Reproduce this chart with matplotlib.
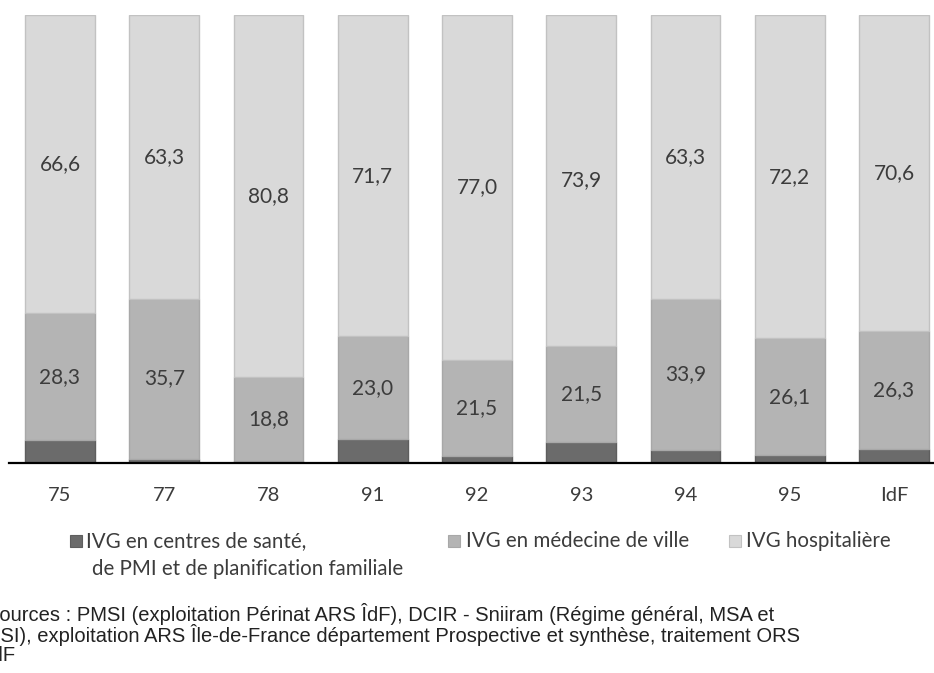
import matplotlib
matplotlib.use("Agg")
import matplotlib.pyplot as plt
from matplotlib.patches import Rectangle
import numpy as np

# données (%)
departements = ["75", "77", "78", "91", "92", "93", "94", "95", "IdF"]
centres_sante = [5.1, 1.0, 0.4, 5.3, 1.5, 4.6, 2.8, 1.7, 3.1]
medecine_ville = [28.3, 35.7, 18.8, 23.0, 21.5, 21.5, 33.9, 26.1, 26.3]
hospitaliere = [66.6, 63.3, 80.8, 71.7, 77.0, 73.9, 63.3, 72.2, 70.6]

series_labels = ["IVG en centres de santé,", "IVG en médecine de ville",
                 "IVG hospitalière"]
sources = ("Sources : PMSI (exploitation Périnat ARS ÎdF), DCIR - Sniiram "
           "(Régime général, MSA et\nRSI), exploitation ARS Île-de-France "
           "département Prospective et synthèse, traitement ORS\nÎdF")

c_dark, c_mid, c_light = "#6b6b6b", "#b4b4b4", "#d9d9d9"
e_dark, e_mid, e_light = "#5e5e5e", "#a8a8a8", "#c2c2c2"
txt_col = "#3c3c3c"
font_chart = ["Lato", "DejaVu Sans"]

W, H = 934, 673
fig = plt.figure(figsize=(W / 100, H / 100), dpi=100)
# axes: gauche 9px, droite 934px, bas 463px, haut 15px
ax = fig.add_axes([9 / W, (H - 463) / H, (W - 9) / W, (463 - 15) / H])

x = np.arange(len(departements))
w = 0.67
b1 = np.array(centres_sante)
b2 = b1 + np.array(medecine_ville)
ax.bar(x, centres_sante, w, color=c_dark, edgecolor=e_dark, linewidth=1)
ax.bar(x, medecine_ville, w, bottom=b1, color=c_mid, edgecolor=e_mid,
       linewidth=1)
ax.bar(x, hospitaliere, w, bottom=b2, color=c_light, edgecolor=e_light,
       linewidth=1)

for i in range(len(x)):
    ax.text(x[i], b1[i] + medecine_ville[i] / 2,
            f"{medecine_ville[i]:.1f}".replace(".", ","),
            ha="center", va="center", fontsize=15, color=txt_col,
            family=font_chart)
    ax.text(x[i], b2[i] + hospitaliere[i] / 2,
            f"{hospitaliere[i]:.1f}".replace(".", ","),
            ha="center", va="center", fontsize=15, color=txt_col,
            family=font_chart)

ax.set_xlim((9 - 60) / 104.25, (934 - 60) / 104.25)
ax.set_ylim(0, 100)
for s in ["top", "right", "left"]:
    ax.spines[s].set_visible(False)
ax.spines["bottom"].set_linewidth(1.6)
ax.spines["bottom"].set_color("black")
ax.set_yticks([])
ax.set_xticks(x)
ax.set_xticklabels(departements, fontsize=14.5, color=txt_col,
                   family=font_chart)
ax.tick_params(axis="x", length=0, pad=17)

# légende manuelle
def fy(py):
    return (H - py) / H

leg_items = [(70, 86, c_dark, e_dark, series_labels[0]),
             (448, 466, c_mid, e_mid, series_labels[1]),
             (729, 746, c_light, e_light, series_labels[2])]
for px, tx, fc, ec, lab in leg_items:
    fig.patches.append(Rectangle((px / W, fy(547)), 12 / W, 12 / H,
                                 facecolor=fc, edgecolor=ec, lw=0.8,
                                 transform=fig.transFigure))
    fig.text(tx / W, fy(541), lab, ha="left", va="center",
             fontsize=14.8, color=txt_col, family=font_chart)
fig.text(92 / W, fy(569), "de PMI et de planification familiale",
         ha="left", va="center", fontsize=14.8, color=txt_col,
         family=font_chart)

fig.text(-14 / W, fy(603), sources, ha="left", va="top", fontsize=14.5,
         color="#222222", family=["Liberation Sans", "DejaVu Sans"],
         linespacing=0.96)

fig.savefig("out.png", dpi=100)
